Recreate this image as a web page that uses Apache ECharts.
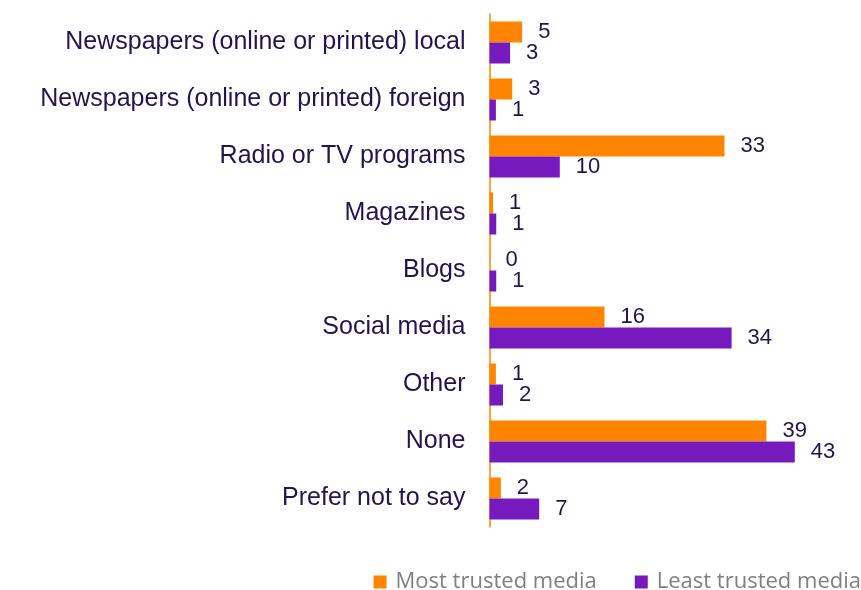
<!DOCTYPE html>
<html>
<head>
<meta charset="utf-8">
<script src="https://cdn.jsdelivr.net/npm/echarts@6/dist/echarts.min.js"></script>
<style>
  html, body { margin: 0; padding: 0; background: #fff; }
  #chart { width: 861px; height: 590px; }
</style>
</head>
<body>
<div id="chart"></div>
<script>
const categories = [
  'Newspapers (online or printed) local',
  'Newspapers (online or printed) foreign',
  'Radio or TV programs',
  'Magazines',
  'Blogs',
  'Social media',
  'Other',
  'None',
  'Prefer not to say'
]
// percentages (labels are rounded)
const mostTrusted = [4.6, 3.2, 33.1, 0.5, 0, 16.2, 0.9, 39, 1.6]
const leastTrusted = [2.9, 0.9, 9.9, 0.95, 0.95, 34.1, 1.9, 43, 7]
const seriesNames = ['Most trusted media', 'Least trusted media']

const textColor = '#23134f'
const orange = '#ff8500'
const purple = '#7619bd'
const arial = '"Liberation Sans", Arial, sans-serif'

const chart = echarts.init(document.getElementById('chart'))

function barSeries(name, data, color) {
  return {
    name: name,
    type: 'bar',
    data: data,
    barWidth: 21,
    barGap: '0%',
    itemStyle: { color: color },
    label: {
      show: true,
      position: 'right',
      distance: 16,
      color: textColor,
      fontFamily: arial,
      fontSize: 22,
      formatter: p => Math.round(p.value)
    }
  }
}

chart.setOption({
  animation: false,
  grid: {
    left: 489.5,
    right: 16.5,
    top: 14,
    bottom: 63
  },
  legend: {
    data: seriesNames,
    right: -5,
    bottom: -8,
    icon: 'rect',
    itemWidth: 13,
    itemHeight: 13,
    itemGap: 38,
    textStyle: {
      color: '#7f7f7f',
      fontFamily: '"Open Sans", sans-serif',
      fontSize: 22,
      padding: [0, 0, 0, 4]
    }
  },
  xAxis: {
    type: 'value',
    min: 0,
    max: 50,
    axisLine: { show: false },
    axisTick: { show: false },
    axisLabel: { show: false },
    splitLine: { show: false }
  },
  yAxis: {
    type: 'category',
    data: categories,
    inverse: true,
    axisLine: { show: true, lineStyle: { color: orange, width: 1.5 } },
    axisTick: { show: false },
    axisLabel: {
      margin: 24,
      color: textColor,
      fontFamily: arial,
      fontSize: 25
    }
  },
  series: [
    barSeries(seriesNames[0], mostTrusted, orange),
    barSeries(seriesNames[1], leastTrusted, purple)
  ]
})
</script>
</body>
</html>
